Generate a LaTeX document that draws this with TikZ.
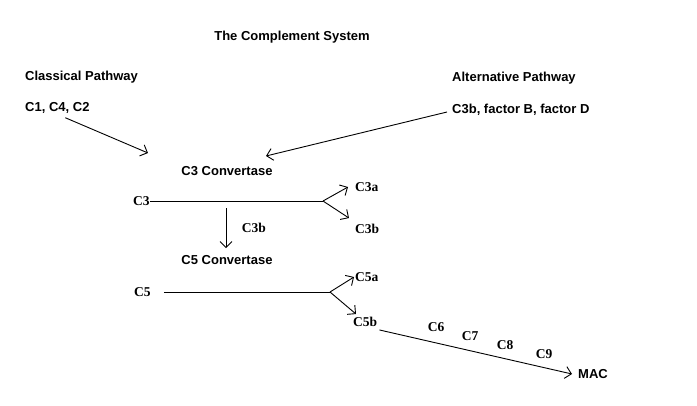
\documentclass[tikz,border=0pt]{standalone}
\usepackage{fontspec}
\setmainfont{Liberation Serif}
\setsansfont{Liberation Sans}
\usetikzlibrary{arrows.meta}

\begin{document}
\begin{tikzpicture}[x=1pt, y=-1pt,
    head/.style={font=\fontsize{13}{15}\selectfont\sffamily\bfseries, inner sep=0pt, anchor=west},
    prot/.style={font=\fontsize{13.5}{15}\selectfont\bfseries, inner sep=0pt, anchor=west},
    arr/.style={-{Straight Barb[length=6pt,width=12pt]}, line width=0.9pt},
    path/.style={line width=0.9pt}]
    \useasboundingbox[fill=white] (0,0) rectangle (697,405);

    \node[head, anchor=center] (title) at (292,37) {The Complement System};
    \node[head] (classical) at (25,77) {Classical Pathway};
    \node[head] (c142) at (25,108) {C1, C4, C2};
    \node[head] (alternative) at (452,78) {Alternative Pathway};
    \node[head] (c3bBD) at (452,110) {C3b, factor B, factor D};
    \node[head, anchor=center] (c3conv) at (227,171) {C3 Convertase};
    \node[head, anchor=center] (c5conv) at (227,260) {C5 Convertase};

    \node[prot] (c3) at (133,201) {C3};
    \node[prot] (c3a) at (355,187) {C3a};
    \node[prot] (c3b) at (355,229) {C3b};
    \node[prot, anchor=center] (c3bmid) at (254,228) {C3b};
    \node[prot] (c5) at (134,292) {C5};
    \node[prot] (c5a) at (355,277) {C5a};
    \node[prot] (c5b) at (353,322) {C5b};
    \node[head] (mac) at (578,374) {MAC};
    \foreach \n/\x/\y in {6/436/327, 7/470/336, 8/505/345, 9/544/354}
    \node[prot, anchor=center] (c\n) at (\x,\y) {C\n};

    \coordinate (in1) at (148,153);
    \coordinate (in2) at (266,156);
    \coordinate (split3) at (323,201);
    \coordinate (split5) at (330,292);
    \coordinate (down) at (226,208);

    \draw[arr] ([shift={(8pt,-4pt)}]c142.south) -- (in1);
    \draw[arr] ([shift={(-5pt,-2pt)}]c3bBD.west) -- (in2);

    \draw[path] (c3.east) -- (split3);
    \draw[arr] (split3) -- ([xshift=-7pt]c3a.west);
    \draw[arr] (split3) -- ([shift={(-6pt,6pt)}]c3b.north west);
    \draw[arr] (down) -- ([yshift=7pt]c5conv.north -| down);

    \draw[path] ([xshift=13pt]c5.east) -- (split5);
    \draw[arr] (split5) -- ([xshift=-1pt]c5a.west);
    \draw[arr] (split5) -- ([shift={(3pt,3pt)}]c5b.north west);
    \draw[arr] ([shift={(2pt,-3pt)}]c5b.south east) -- ([xshift=-6pt]mac.west);
  \end{tikzpicture}
\end{document}
